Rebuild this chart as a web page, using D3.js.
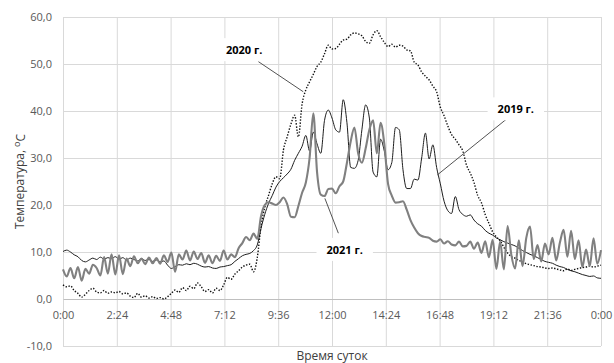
<!DOCTYPE html>
<html>
<head>
<meta charset="utf-8">
<script src="https://cdn.jsdelivr.net/npm/d3@7"></script>
<style>
  body { margin: 0; background: #fff; }
  svg { display: block; }
</style>
</head>
<body>
<svg id="chart" width="614" height="363"></svg>
<script>
// Surface temperature over a day, one reading every 10 minutes (0:00 … 24:00)
const stepMinutes = 10;

const xTickMinutes = [0, 144, 288, 432, 576, 720, 864, 1008, 1152, 1296, 1440];
const xTickLabels = ["0:00", "2:24", "4:48", "7:12", "9:36", "12:00", "14:24", "16:48", "19:12", "21:36", "0:00"];
const yTicks = [-10, 0, 10, 20, 30, 40, 50, 60];

const temp2019 = [
  10.1, 10.4, 10.0, 9.4, 9.0, 8.2, 7.9, 8.3, 8.7, 8.4,
  8.9, 8.5, 8.8, 8.6, 9.0, 8.5, 8.8, 8.3, 8.7, 8.4,
  8.1, 8.6, 8.2, 8.4, 8.0, 8.3, 7.9, 8.1, 7.2, 6.5,
  6.9, 7.3, 7.2, 7.5, 7.3, 7.6, 7.4, 7.0, 6.8, 6.9,
  6.6, 6.5, 6.8, 6.9, 7.1, 7.3, 8.0, 8.6, 9.2, 9.5,
  9.7, 10.3, 11.5, 15.0, 18.0, 20.3, 22.0, 23.8, 25.0, 25.8,
  26.6, 27.6, 29.5, 31.0, 32.5, 34.8, 31.5, 35.5, 33.0, 31.0,
  38.0, 40.2, 38.5, 36.0, 35.5, 42.4, 37.5, 28.0, 27.8, 29.5,
  36.0, 41.3, 38.5, 27.0, 26.0, 34.0, 31.5, 27.5, 29.0, 36.5,
  36.0, 27.5, 23.5, 23.5, 25.5, 25.3, 30.0, 35.3, 29.8, 32.8,
  28.0, 24.5, 20.8, 18.8, 18.2, 21.8, 19.0, 18.0, 17.6, 17.9,
  16.8, 16.0, 15.5, 14.6, 14.0, 13.6, 13.0, 12.6, 12.2, 11.9,
  11.6, 11.3, 10.8, 10.3, 9.9, 9.5, 9.2, 8.8, 8.4, 8.0,
  7.8, 7.6, 7.2, 6.9, 6.7, 6.3, 6.0, 5.8, 5.5, 5.2,
  5.0, 4.8, 4.9, 4.5, 4.4
];

const temp2020 = [
  3.0, 2.6, 2.8, 1.8, 1.2, 0.4, 1.0, 1.8, 2.3, 1.5,
  1.3, 1.8, 1.2, 1.5, 1.3, 1.6, 1.1, 1.3, 0.6, 0.3,
  1.2, 0.4, 0.7, 0.2, 0.5, 0.1, 0.3, 0.0, 0.5, 1.2,
  1.9, 1.4, 2.4, 1.8, 2.7, 2.2, 3.4, 2.6, 1.6, 2.0,
  1.3, 2.3, 1.8, 3.0, 4.6, 4.2, 5.3, 6.0, 6.8, 7.2,
  7.4, 5.8, 8.8, 15.5, 19.5, 22.0, 24.5, 26.0, 25.6, 31.7,
  34.5, 37.2, 39.1, 34.5, 41.5, 44.5, 46.2, 47.8, 49.5, 50.4,
  52.2, 54.0, 53.2, 53.3, 54.2, 55.1, 55.3, 56.2, 56.6, 56.4,
  56.0, 54.8, 54.4, 56.2, 57.1, 55.8, 54.6, 53.7, 54.2, 53.6,
  54.0, 53.8, 53.0, 52.8, 50.4, 49.8, 48.3, 47.4, 46.6, 45.3,
  44.1, 40.8, 39.0, 36.8, 35.0, 34.0, 32.8, 31.5, 28.5, 26.8,
  24.8, 22.0, 20.5, 18.0, 16.1, 14.3, 13.2, 12.4, 11.0, 9.8,
  9.0, 8.7, 8.2, 7.9, 7.5, 7.3, 7.1, 6.9, 6.8, 6.6,
  6.5, 6.6, 6.4, 6.2, 6.0, 6.4, 6.1, 6.3, 6.5, 6.7,
  6.8, 7.0, 6.8, 7.0, 7.2
];

const temp2021 = [
  6.3, 4.8, 6.6, 4.4, 6.8, 3.9, 6.4, 5.4, 7.3, 6.6,
  5.0, 8.9, 5.4, 9.5, 5.2, 9.3, 5.3, 8.6, 7.0, 9.1,
  7.6, 8.6, 7.4, 8.8, 7.6, 8.7, 7.5, 9.3, 7.9, 9.9,
  5.8, 9.5, 8.4, 10.3, 8.2, 10.1, 8.5, 9.8, 7.7, 9.3,
  7.6, 9.2, 8.1, 10.3, 8.4, 9.5, 8.9, 10.8, 11.9, 13.2,
  12.5, 13.9, 12.8, 17.6, 20.0, 20.6, 20.3, 20.0, 20.6, 21.6,
  20.2, 17.5, 17.4, 19.8, 22.6, 24.8, 30.0, 39.5, 27.0, 22.2,
  21.9, 23.4, 23.5, 22.5, 24.0, 25.0, 29.0, 33.5, 36.5, 31.0,
  29.0, 32.0, 36.0, 38.0, 31.0, 37.5, 33.0, 24.5, 22.0, 20.5,
  20.6, 20.8, 19.0, 16.8, 15.2, 14.0, 13.4, 13.2, 13.0, 12.4,
  12.2, 12.7, 11.8, 12.3, 11.6, 11.4, 12.2, 11.2, 11.3, 12.2,
  10.7, 12.0, 9.8, 12.3, 8.9, 12.6, 6.4, 12.2, 6.3, 15.5,
  9.4, 6.5, 12.5, 7.0, 13.0, 15.4, 8.5, 11.5, 8.0, 11.8,
  9.5, 13.0, 8.2, 12.0, 14.7, 9.0, 14.5, 8.5, 12.5, 6.8,
  10.5, 7.0, 12.9, 7.5, 10.4
];

const seriesNames = ["2019 г.", "2020 г.", "2021 г."];

// Callout placement, in data units: label centre, leader start, leader end
const callouts = [
  { name: "2019 г.", at: [1212, 39.5], from: [1189, 38.4], to: [1002, 26.4] },
  { name: "2020 г.", at: [485, 52.1], from: [523, 50.5], to: [643, 44.1] },
  { name: "2021 г.", at: [754, 9.6], from: [737, 14.0], to: [701, 21.4] }
];

const styles = {
  "2019 г.": { stroke: "#1e1e1e", width: 1.0, dash: null },
  "2020 г.": { stroke: "#111111", width: 1.4, dash: "1.4 1.6" },
  "2021 г.": { stroke: "#808080", width: 2.1, dash: null }
};

const svg = d3.select("#chart");
const plot = { left: 63, right: 601, top: 17, bottom: 346 };

const x = d3.scaleLinear().domain([0, 1440]).range([plot.left, plot.right]);
const y = d3.scaleLinear().domain([-10, 60]).range([plot.bottom, plot.top]);

const fmt = d => d.toFixed(1).replace(".", ",");
const font = "'Open Sans', 'Liberation Sans', sans-serif";

// vertical grid
svg.append("g")
  .attr("transform", `translate(0,${plot.bottom})`)
  .call(d3.axisBottom(x).tickValues(xTickMinutes).tickSize(-(plot.bottom - plot.top)).tickFormat(""))
  .call(g => g.select(".domain").remove())
  .call(g => g.selectAll("line").attr("stroke", "#d9d9d9").attr("stroke-width", 1));

// horizontal grid + y labels
svg.append("g")
  .attr("transform", `translate(${plot.left},0)`)
  .call(d3.axisLeft(y).tickValues(yTicks).tickSize(-(plot.right - plot.left)).tickPadding(11).tickFormat(fmt))
  .call(g => g.select(".domain").remove())
  .call(g => g.selectAll("line").attr("stroke", "#d9d9d9").attr("stroke-width", 1))
  .call(g => g.selectAll("text").attr("fill", "#595959").style("font-family", font).style("font-size", "11px"));

// time axis sits on the zero line
svg.append("g")
  .attr("transform", `translate(0,${y(0)})`)
  .call(d3.axisBottom(x).tickValues(xTickMinutes).tickSize(0).tickPadding(12)
    .tickFormat((d, i) => xTickLabels[i]))
  .call(g => g.select(".domain").attr("stroke", "#bfbfbf"))
  .call(g => g.selectAll("text").attr("fill", "#595959").style("font-family", font).style("font-size", "11px"));

// series
const seriesData = { "2019 г.": temp2019, "2020 г.": temp2020, "2021 г.": temp2021 };
const line = d3.line()
  .x((d, i) => x(i * stepMinutes))
  .y(d => y(d))
  .curve(d3.curveMonotoneX);

seriesNames.forEach(name => {
  const s = styles[name];
  svg.append("path")
    .datum(seriesData[name])
    .attr("fill", "none")
    .attr("stroke", s.stroke)
    .attr("stroke-width", s.width)
    .attr("stroke-linejoin", "round")
    .attr("stroke-dasharray", s.dash)
    .attr("d", line);
});

// callouts: leader line, white box, bold label
callouts.forEach(c => {
  svg.append("line")
    .attr("x1", x(c.from[0])).attr("y1", y(c.from[1]))
    .attr("x2", x(c.to[0])).attr("y2", y(c.to[1]))
    .attr("stroke", "#404040").attr("stroke-width", 0.9);
  const g = svg.append("g");
  const t = g.append("text")
    .attr("x", x(c.at[0])).attr("y", y(c.at[1]))
    .attr("text-anchor", "middle")
    .style("font-family", font).style("font-size", "11px").style("font-weight", "700")
    .attr("fill", "#000")
    .text(c.name);
  const b = t.node().getBBox();
  g.insert("rect", "text")
    .attr("x", b.x - 10).attr("y", b.y - 4)
    .attr("width", b.width + 20).attr("height", b.height + 8)
    .attr("fill", "#fff");
});

// axis titles
svg.append("text")
  .attr("x", (plot.left + plot.right) / 2).attr("y", 360)
  .attr("text-anchor", "middle")
  .style("font-family", font).style("font-size", "12px").attr("fill", "#404040")
  .text("Время суток");

const yt = svg.append("text")
  .attr("transform", `translate(24,${(plot.top + plot.bottom) / 2}) rotate(-90)`)
  .attr("text-anchor", "middle")
  .style("font-family", font).style("font-size", "12px").attr("fill", "#404040");
yt.append("tspan").text("Температура, ");
yt.append("tspan").attr("dy", "-0.45em").style("font-size", "9px").text("о");
yt.append("tspan").attr("dy", "0.45em").text("С");
</script>
</body>
</html>
